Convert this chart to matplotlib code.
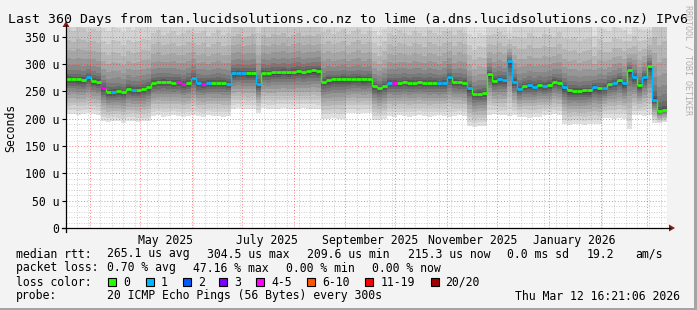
import datetime as dt
import numpy as np
import matplotlib
matplotlib.use("Agg")
import matplotlib.pyplot as plt
import matplotlib.dates as mdates
from matplotlib.collections import LineCollection
from matplotlib.patches import Rectangle, Polygon
from matplotlib.lines import Line2D

W, H = 697, 310
MONO = "DejaVu Sans Mono"

start = dt.datetime(2025, 3, 17, 16, 21, 6)
end = dt.datetime(2026, 3, 12, 16, 21, 6)
step_days = 3

# median rtt in microseconds, one value per 3 days
median_us = [273, 273, 272, 271, 276, 270, 268, 256, 249, 249,
             250, 249, 255, 253, 253, 254, 258, 266, 267, 268,
             267, 266, 267, 264, 266, 275, 265, 264, 266, 266,
             266, 266, 264, 283, 284, 284, 283, 283, 263, 284,
             284, 285, 285, 286, 285, 286, 287, 286, 287, 289,
             288, 268, 271, 272, 272, 273, 272, 273, 273, 272,
             273, 260, 256, 260, 266, 266, 265, 267, 266, 266,
             267, 266, 266, 266, 265, 266, 276, 268, 267, 266,
             256, 245, 246, 247, 282, 270, 272, 271, 305, 268,
             255, 260, 261, 259, 262, 260, 262, 268, 266, 258,
             252, 251, 251, 252, 252, 258, 256, 257, 264, 266,
             271, 265, 289, 277, 262, 276, 296, 235, 214, 216]
# lost pings out of 20
loss = [0, 0, 0, 0, 1, 0, 0, 4, 0, 1,
        0, 0, 0, 1, 0, 0, 0, 0, 0, 0,
        0, 0, 4, 4, 0, 1, 1, 4, 1, 0,
        0, 0, 1, 1, 1, 1, 0, 0, 1, 0,
        0, 0, 0, 0, 0, 0, 0, 0, 0, 0,
        0, 0, 0, 0, 0, 0, 0, 0, 0, 0,
        0, 0, 0, 0, 1, 4, 0, 0, 0, 0,
        0, 0, 0, 0, 1, 1, 1, 0, 0, 0,
        1, 0, 0, 0, 0, 0, 1, 1, 1, 1,
        1, 0, 1, 1, 0, 1, 0, 0, 0, 1,
        0, 0, 0, 0, 0, 1, 0, 1, 0, 1,
        0, 1, 0, 1, 0, 1, 0, 1, 0, 0]
# fastest and slowest ping (smoke edges), microseconds
smoke_min = [208, 209, 207, 208, 210, 208, 207, 195, 194, 196,
             195, 193, 195, 196, 194, 195, 196, 205, 206, 204,
             205, 206, 205, 204, 205, 206, 205, 204, 206, 205,
             205, 204, 205, 218, 219, 218, 217, 218, 210, 219,
             218, 217, 218, 219, 218, 217, 218, 219, 218, 218,
             217, 200, 199, 201, 200, 199, 210, 211, 209, 210,
             210, 198, 197, 199, 205, 204, 206, 205, 204, 205,
             206, 205, 204, 205, 206, 205, 204, 205, 206, 205,
             186, 185, 187, 186, 207, 208, 206, 207, 205, 207,
             203, 204, 202, 203, 204, 207, 206, 208, 207, 190,
             189, 191, 190, 189, 190, 191, 190, 201, 202, 200,
             201, 200, 182, 206, 207, 205, 206, 193, 192, 194]
smoke_max = [420, 412, 425, 420, 408, 420, 415, 392, 388, 398,
             395, 386, 396, 390, 395, 400, 395, 410, 418, 404,
             410, 416, 402, 410, 418, 404, 410, 416, 400, 410,
             418, 404, 410, 425, 432, 420, 425, 430, 412, 425,
             420, 430, 425, 432, 418, 425, 430, 420, 425, 418,
             425, 410, 418, 404, 410, 416, 402, 410, 418, 404,
             410, 385, 378, 390, 410, 404, 418, 410, 404, 416,
             410, 402, 418, 410, 404, 416, 410, 402, 418, 410,
             380, 374, 385, 380, 395, 404, 410, 400, 370, 400,
             405, 398, 412, 405, 400, 410, 405, 398, 412, 400,
             400, 406, 394, 400, 404, 375, 399, 390, 384, 396,
             390, 386, 372, 394, 390, 384, 378, 470, 464, 476]

loss_labels = ["0", "1", "2", "3", "4-5", "6-10", "11-19", "20/20"]
loss_lower = [0, 1, 2, 3, 4, 6, 11, 20]
loss_colors = ["#26ff00", "#00b8ff", "#0059ff", "#7e00ff",
               "#ff00ff", "#ff5500", "#ff0000", "#a10000"]
y_ticks = [0, 50, 100, 150, 200, 250, 300, 350]
month_labels = ["May 2025", "July 2025", "September 2025",
                "November 2025", "January 2026"]

title = "Last 360 Days from tan.lucidsolutions.co.nz to lime (a.dns.lucidsolutions.co.nz) IPv6"
rtt_stats = ["265.1 us avg", "304.5 us max", "209.6 us min", "215.3 us now",
             "0.0 ms sd", "19.2", "am/s"]
loss_stats = ["0.70 % avg", "47.16 % max", "0.00 % min", "0.00 % now"]
probe_text = "20 ICMP Echo Pings (56 Bytes) every 300s"
stamp = "Thu Mar 12 16:21:06 2026"


def px(x, y):
    return x / W, 1 - y / H


fig = plt.figure(figsize=(W / 100, H / 100), dpi=100)
fig.patch.set_facecolor("#f3f3f3")

# rrdtool style 3d frame
fig.patches.append(Rectangle((0, 0), 1, 2 / H, transform=fig.transFigure,
                             color="#a4a4a4", lw=0))
fig.patches.append(Rectangle((1 - 3 / W, 0), 3 / W, 1, transform=fig.transFigure,
                             color="#a4a4a4", lw=0))

x0, y0 = px(66, 228)
x1, y1 = px(667, 27)
ax = fig.add_axes([x0, y0, x1 - x0, y1 - y0])
ax.set_facecolor("white")
for s in ax.spines.values():
    s.set_visible(False)

n = len(median_us)
times = [start + dt.timedelta(days=step_days * i) for i in range(n)] + [end]
tn = mdates.date2num(times)
med = np.array(median_us, float)
lo = np.array(smoke_min, float)
hi = np.array(smoke_max, float)

# smoke: bands from the extremes in to the median, darker towards the middle
nb = 12
for k in range(nb, 0, -1):
    top = med + (hi - med) * (k / nb) ** 2.5
    bot = med - (med - lo) * (k / nb) ** 1.5
    g = 0.2 + 0.68 * ((k - 1) / (nb - 1)) ** 0.9
    ax.fill_between(tn, np.append(bot, bot[-1]), np.append(top, top[-1]),
                    step="post", color=(g, g, g), lw=0, zorder=1)

# grid
grid_minor = dict(color=(0.5, 0.5, 0.5, 0.5), lw=0.6, ls=(0, (1, 2)), zorder=3)
grid_major = dict(color=(1.0, 0.15, 0.15, 0.6), lw=0.7, ls=(0, (1, 2)), zorder=3)
for v in range(10, 370, 10):
    ax.axhline(v, **(grid_major if v % 50 == 0 else grid_minor))
d = start.date()
while d <= end.date():
    if d.day == 1:
        ax.axvline(mdates.date2num(d), **grid_major)
    elif d.weekday() == 0:
        ax.axvline(mdates.date2num(d), **grid_minor)
    d += dt.timedelta(days=1)


# median line coloured by loss
def loss_color(l):
    idx = max(j for j, e in enumerate(loss_lower) if l >= e)
    return loss_colors[idx]


cols = [loss_color(l) for l in loss]
flat = [[(tn[i], med[i]), (tn[i + 1], med[i])] for i in range(n)]
steps = [[(tn[i], med[i - 1]), (tn[i], med[i])] for i in range(1, n)]
ax.add_collection(LineCollection(steps, colors=cols[1:], linewidths=1.0, zorder=5))
ax.add_collection(LineCollection(flat, colors=cols, linewidths=2.0, zorder=6))

ax.set_xlim(tn[0], tn[-1])
ax.set_ylim(0, 368)
ax.set_yticks(y_ticks, labels=[f"{v} u" if v else "0" for v in y_ticks],
              fontfamily=MONO, fontsize=8.3)
mids = [dt.datetime.strptime(m, "%B %Y") + dt.timedelta(days=15) for m in month_labels]
ax.set_xticks(mdates.date2num(mids), labels=month_labels, fontfamily=MONO, fontsize=8.3)
ax.tick_params(axis="x", length=0, pad=4.5)
ax.tick_params(axis="y", length=3, width=0.8, pad=2)

# axes with arrows
fig.lines.append(Line2D([px(62, 0)[0], px(670, 0)[0]], [y0, y0],
                        transform=fig.transFigure, color="black", lw=0.9))
fig.lines.append(Line2D([x0, x0], [px(0, 232)[1], px(0, 25)[1]],
                        transform=fig.transFigure, color="black", lw=0.9))
fig.patches.append(Polygon([px(669, 224.5), px(669, 231.5), px(675, 228)], closed=True,
                           transform=fig.transFigure, color="#8b1a1a", lw=0))
fig.patches.append(Polygon([px(62.5, 27), px(69.5, 27), px(66, 21)], closed=True,
                           transform=fig.transFigure, color="#8b1a1a", lw=0))

txt = dict(fontfamily=MONO, fontsize=8.3, va="center", color="black")
fig.text(*px(8, 19), title, fontfamily=MONO, fontsize=9.5, va="center")
fig.text(*px(11, 128), "Seconds", rotation=90, ha="center", **txt)
fig.text(*px(688, 60), "RRDTOOL / TOBI OETIKER", rotation=270, ha="center",
         fontfamily=MONO, fontsize=6, va="center", color="#b0b0b0")

fig.text(*px(16, 254), "median rtt:", **txt)
for xp, s in zip([107, 207, 307, 408, 507, 587, 635], rtt_stats):
    fig.text(*px(xp, 254), s, **txt)
fig.text(*px(16, 268), "packet loss:", **txt)
for xp, s in zip([107, 193, 286, 372], loss_stats):
    fig.text(*px(xp, 268), s, **txt)
fig.text(*px(16, 282), "loss color:", **txt)
box_x = [108, 146, 183, 219, 256, 307, 365, 431]
lab_x = [123, 161, 198, 234, 271, 322, 381, 445]
for bx, lx, c, s in zip(box_x, lab_x, loss_colors, loss_labels):
    bl = px(bx, 286)
    fig.patches.append(Rectangle(bl, 8 / W, 8 / H, transform=fig.transFigure,
                                 facecolor=c, edgecolor="black", lw=0.8))
    fig.text(*px(lx, 282), s, **txt)
fig.text(*px(16, 296), "probe:", **txt)
fig.text(*px(107, 296), probe_text, **txt)
fig.text(*px(680, 296), stamp, ha="right", **txt)

fig.savefig("out.png", dpi=100, facecolor=fig.get_facecolor())
